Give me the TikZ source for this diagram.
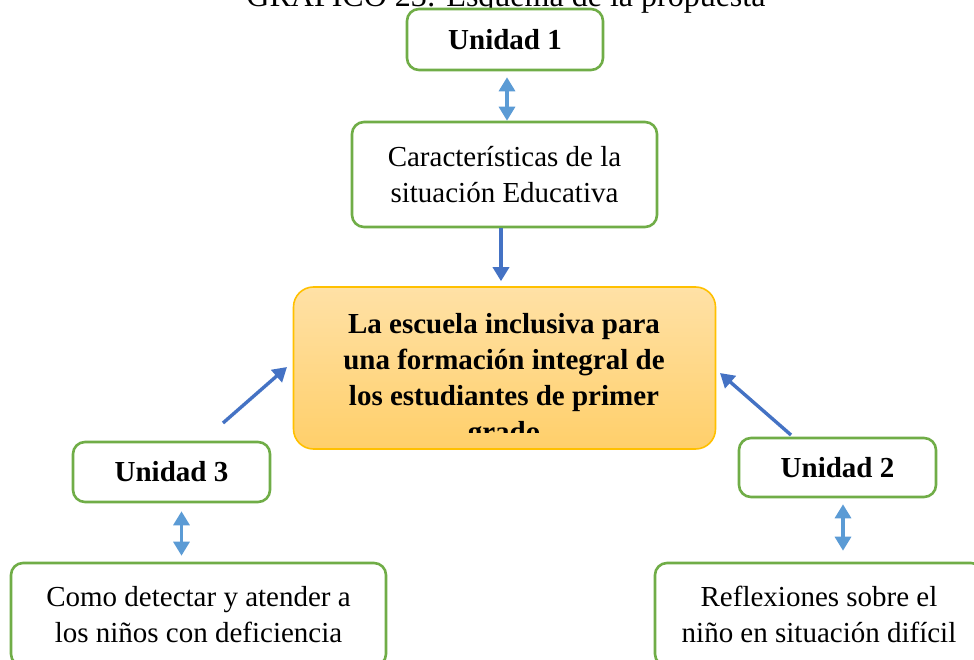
\documentclass[tikz,border=0pt]{standalone}
\usepackage{fontspec}
\setmainfont{Liberation Serif}
\usetikzlibrary{arrows.meta}
\definecolor{gboxc}{HTML}{70AD47}
\definecolor{lblue}{HTML}{5B9BD5}
\definecolor{dblue}{HTML}{4472C4}
\definecolor{goldc}{HTML}{FFC000}
\definecolor{goldtop}{HTML}{FFE1A6}
\definecolor{goldbot}{HTML}{FFCF6A}
\begin{document}
\begin{tikzpicture}[x=1pt,y=-1pt,
  gbox/.style={draw=gboxc, line width=2.6pt, rounded corners=12pt, fill=white, inner sep=0pt, align=center},
  txt/.style={font=\fontsize{29}{36}\selectfont},
  btxt/.style={font=\bfseries\fontsize{29}{36}\selectfont},
  dbl/.style={draw=lblue, line width=3.2pt, {Triangle[width=16pt,length=14pt]}-{Triangle[width=16pt,length=14pt]}},
  arr/.style={draw=dblue, line width=3.4pt, -{Triangle[width=16pt,length=14pt]}}]
\useasboundingbox (0,0) rectangle (974,660);
\clip (0,0) rectangle (974,660);
\fill[white] (0,0) rectangle (974,660);
% title
\node[font=\fontsize{32}{38}\selectfont, anchor=base, inner sep=0pt] (title) at (506,7) {GRÁFICO 23: Esquema de la propuesta};
% boxes
\node[gbox, btxt, minimum width=196pt, minimum height=61pt] (u1) at (505,39.5) {Unidad 1};
\node[gbox, txt, minimum width=305pt, minimum height=105pt] (car) at (504.5,174.5) {Características de la\\situación Educativa};
\node[draw=goldc, line width=1.6pt, rounded corners=20pt, top color=goldtop, bottom color=goldbot, minimum width=422pt, minimum height=162pt, inner sep=0pt] (cen) at (504.5,368) {};
\begin{scope}
  \clip (293,287) rectangle (716,432);
  \node[btxt, align=center, anchor=base, inner sep=0pt] (ctext) at (504,441) {La escuela inclusiva para\\una formación integral de\\los estudiantes de primer\\grado};
\end{scope}
\node[gbox, btxt, minimum width=197pt, minimum height=60pt] (u3) at (171.5,472) {Unidad 3};
\node[gbox, btxt, minimum width=197pt, minimum height=59pt] (u2) at (837.5,467.5) {Unidad 2};
\node[gbox, txt, minimum width=375pt, minimum height=103pt] (como) at (198.5,614.5) {Como detectar y atender a\\los niños con deficiencia};
\node[gbox, txt, minimum width=328pt, minimum height=103pt] (refl) at (819,614.5) {Reflexiones sobre el\\niño en situación difícil};
% connectors
\draw[dbl, shorten <=6pt] ([xshift=2pt]u1.south) -- ([xshift=2pt]u1.south |- car.north);
\draw[arr, shorten >=5pt] ([xshift=-3.5pt]car.south) -- ([xshift=-3.5pt]car.south |- cen.north);
\draw[dbl, shorten <=8pt, shorten >=6pt] ([xshift=10pt]u3.south) -- ([xshift=10pt]u3.south |- como.north);
\draw[dbl, shorten <=6pt, shorten >=11pt] ([xshift=5.5pt]u2.south) -- ([xshift=5.5pt]u2.south |- refl.north);
\coordinate (t3) at (223,423);
\coordinate (h3) at (287,367);
\coordinate (t2) at (791,435);
\coordinate (h2) at (720,373);
\draw[arr] (t3) -- (h3);
\draw[arr] (t2) -- (h2);
\end{tikzpicture}
\end{document}
